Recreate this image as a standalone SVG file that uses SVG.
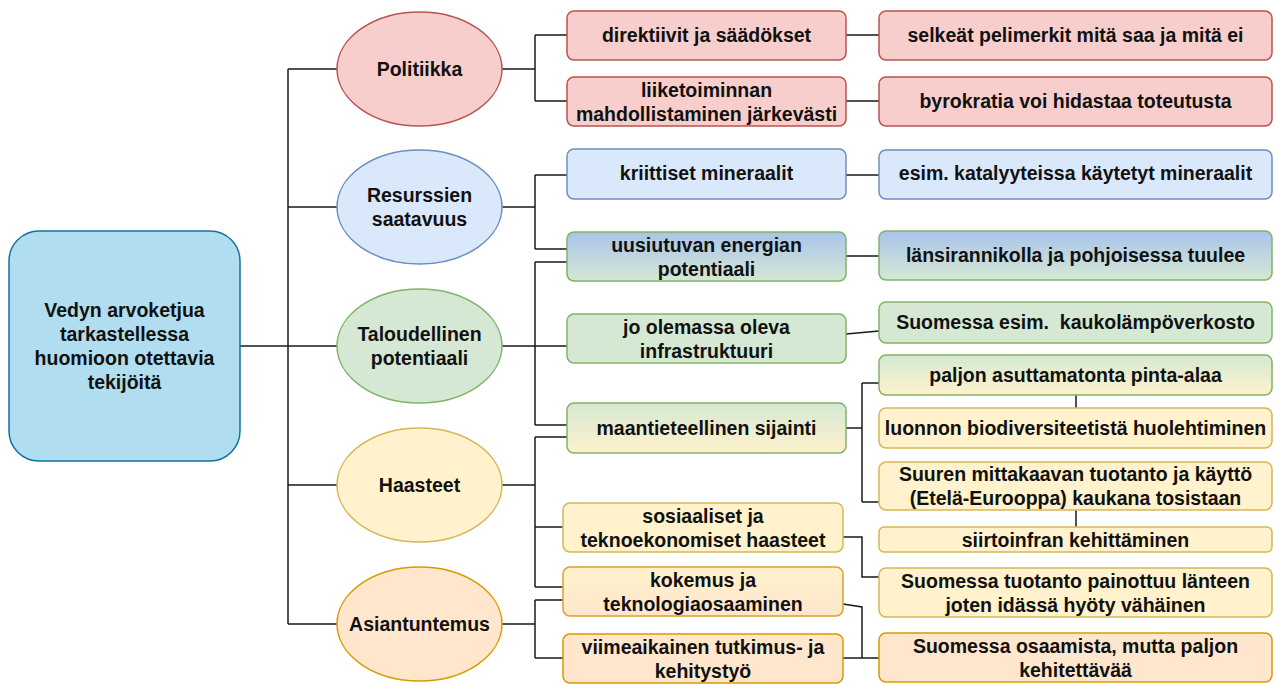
<svg xmlns="http://www.w3.org/2000/svg" width="1275" height="684" viewBox="0 0 1275 684">
  <style>
    text { font-family: "Liberation Sans", Arial, sans-serif; font-size: 19.5px; font-weight: bold; fill: #111; text-anchor: middle; dominant-baseline: central; }
    .wire { fill: none; stroke: #1a1a1a; stroke-width: 1.5; }
    .box { stroke-width: 1.5; }
    .red { fill: #f8cecc; stroke: #b85450; }
    .blue { fill: #dae8fc; stroke: #6c8ebf; }
    .green { fill: #d5e8d4; stroke: #82b366; }
    .yellow { fill: #fff2cc; stroke: #d6b656; }
    .orange { fill: #ffe6cc; stroke: #d79b00; }
    .bg { fill: url(#gBlueGreen); stroke: #82b366; }
    .gy { fill: url(#gGreenYellow); stroke: #82b366; }
    .yo { fill: url(#gYellowOrange); stroke: #d7a42a; }
    .root { fill: #b1ddf0; stroke: #10739e; }
  </style>
  <defs>
    <linearGradient id="gBlueGreen" x1="0" y1="0" x2="0" y2="1">
      <stop offset="0" stop-color="#a9c4eb"/>
      <stop offset="1" stop-color="#d5e8d4"/>
    </linearGradient>
    <linearGradient id="gGreenYellow" x1="0" y1="0" x2="0" y2="1">
      <stop offset="0" stop-color="#d5e8d4"/>
      <stop offset="1" stop-color="#fff2cc"/>
    </linearGradient>
    <linearGradient id="gYellowOrange" x1="0" y1="0" x2="0" y2="1">
      <stop offset="0" stop-color="#fff2cc"/>
      <stop offset="1" stop-color="#ffe6cc"/>
    </linearGradient>
  </defs>

  <!-- connectors -->
  <g id="connectors">
    <!-- root to category trunk -->
    <path class="wire" d="M240 346 H288 M288 69 V624 M288 69 H337 M288 207 H337 M288 346 H337 M288 485 H337 M288 624 H337"/>
    <!-- Politiikka -->
    <path class="wire" d="M502 69 H535 M535 35 V101 M535 35 H567 M535 101 H567"/>
    <!-- Resurssien saatavuus -->
    <path class="wire" d="M502 207 H535 M535 175 V249 M535 175 H567 M535 249 H567"/>
    <!-- Taloudellinen potentiaali -->
    <path class="wire" d="M502 346 H535 M535 262 V425 M535 262 H567 M535 346 H567 M535 425 H567"/>
    <!-- Haasteet -->
    <path class="wire" d="M502 485 H535 M535 437 V587 M535 437 H567 M535 527 H563 M535 587 H563"/>
    <!-- Asiantuntemus -->
    <path class="wire" d="M502 624 H535 M535 600 V658 M535 600 H563 M535 658 H563"/>
    <!-- second level to details -->
    <path class="wire" d="M846 35 H879 M846 101 H879 M846 175 H879 M846 256 H879"/>
    <path class="wire" d="M846 334 L879 331"/>
    <path class="wire" d="M846 428 H862 M862 383 V502 M862 383 H879 M862 502 H879"/>
    <path class="wire" d="M1076 395 V408 M1076 510 V527"/>
    <path class="wire" d="M843 537 H862 V577 H879"/>
    <path class="wire" d="M843 604 L862 607 V658 H879 M843 658 H862"/>
  </g>

  <!-- root -->
  <g id="root">
    <rect class="box root" x="9" y="231" width="231" height="230" rx="30"/>
    <text x="124.5" y="310">Vedyn arvoketjua</text>
    <text x="124.5" y="334">tarkastellessa</text>
    <text x="124.5" y="358">huomioon otettavia</text>
    <text x="124.5" y="382">tekijöitä</text>
  </g>

  <!-- categories -->
  <g id="politiikka">
    <ellipse class="box red" cx="419.5" cy="69" rx="82.5" ry="57"/>
    <text x="419.5" y="69">Politiikka</text>
  </g>
  <g id="resurssit">
    <ellipse class="box blue" cx="419.5" cy="207" rx="82.5" ry="57"/>
    <text x="419.5" y="195">Resurssien</text>
    <text x="419.5" y="219">saatavuus</text>
  </g>
  <g id="talous">
    <ellipse class="box green" cx="419.5" cy="346" rx="82.5" ry="57"/>
    <text x="419.5" y="334">Taloudellinen</text>
    <text x="419.5" y="358">potentiaali</text>
  </g>
  <g id="haasteet">
    <ellipse class="box yellow" cx="419.5" cy="485" rx="82.5" ry="57"/>
    <text x="419.5" y="485">Haasteet</text>
  </g>
  <g id="asiantuntemus">
    <ellipse class="box orange" cx="419.5" cy="624" rx="82.5" ry="57"/>
    <text x="419.5" y="624">Asiantuntemus</text>
  </g>

  <!-- second level -->
  <g id="direktiivit">
    <rect class="box red" x="567" y="11" width="279" height="49" rx="7"/>
    <text x="706.5" y="35">direktiivit ja säädökset</text>
  </g>
  <g id="liiketoiminta">
    <rect class="box red" x="567" y="77" width="279" height="49" rx="7"/>
    <text x="706.5" y="89.5">liiketoiminnan</text>
    <text x="706.5" y="113.5">mahdollistaminen järkevästi</text>
  </g>
  <g id="mineraalit">
    <rect class="box blue" x="567" y="149" width="279" height="50" rx="7"/>
    <text x="706.5" y="173">kriittiset mineraalit</text>
  </g>
  <g id="uusiutuva">
    <rect class="box bg" x="567" y="232" width="279" height="49" rx="7"/>
    <text x="706.5" y="244.5">uusiutuvan energian</text>
    <text x="706.5" y="268.5">potentiaali</text>
  </g>
  <g id="infra">
    <rect class="box green" x="567" y="314" width="279" height="49" rx="7"/>
    <text x="706.5" y="326.5">jo olemassa oleva</text>
    <text x="706.5" y="350.5">infrastruktuuri</text>
  </g>
  <g id="sijainti">
    <rect class="box gy" x="567" y="403" width="279" height="50" rx="7"/>
    <text x="706.5" y="428">maantieteellinen sijainti</text>
  </g>
  <g id="sosiaaliset">
    <rect class="box yellow" x="563" y="503" width="280" height="49" rx="7"/>
    <text x="703" y="515.5">sosiaaliset ja</text>
    <text x="703" y="539.5">teknoekonomiset haasteet</text>
  </g>
  <g id="kokemus">
    <rect class="box yo" x="563" y="567" width="280" height="49" rx="7"/>
    <text x="703" y="579.5">kokemus ja</text>
    <text x="703" y="603.5">teknologiaosaaminen</text>
  </g>
  <g id="tutkimus">
    <rect class="box orange" x="563" y="634" width="280" height="49" rx="7"/>
    <text x="703" y="646.5">viimeaikainen tutkimus- ja</text>
    <text x="703" y="670.5">kehitystyö</text>
  </g>

  <!-- details -->
  <g id="pelimerkit">
    <rect class="box red" x="879" y="11" width="393" height="49" rx="7"/>
    <text x="1075.5" y="35">selkeät pelimerkit mitä saa ja mitä ei</text>
  </g>
  <g id="byrokratia">
    <rect class="box red" x="879" y="77" width="393" height="49" rx="7"/>
    <text x="1075.5" y="101">byrokratia voi hidastaa toteutusta</text>
  </g>
  <g id="katalyytit">
    <rect class="box blue" x="879" y="150" width="393" height="49" rx="7"/>
    <text x="1075.5" y="173">esim. katalyyteissa käytetyt mineraalit</text>
  </g>
  <g id="tuuli">
    <rect class="box bg" x="879" y="231" width="393" height="49" rx="7"/>
    <text x="1075.5" y="255">länsirannikolla ja pohjoisessa tuulee</text>
  </g>
  <g id="kaukolampo">
    <rect class="box green" x="879" y="302" width="393" height="41" rx="7"/>
    <text x="1075.5" y="322" xml:space="preserve">Suomessa esim.  kaukolämpöverkosto</text>
  </g>
  <g id="pinta-ala">
    <rect class="box gy" x="879" y="355" width="393" height="40" rx="7"/>
    <text x="1075.5" y="375">paljon asuttamatonta pinta-alaa</text>
  </g>
  <g id="biodiversiteetti">
    <rect class="box yellow" x="879" y="408" width="393" height="40" rx="7"/>
    <text x="1075.5" y="428">luonnon biodiversiteetistä huolehtiminen</text>
  </g>
  <g id="mittakaava">
    <rect class="box yellow" x="879" y="462" width="393" height="48" rx="7"/>
    <text x="1075.5" y="474">Suuren mittakaavan tuotanto ja käyttö</text>
    <text x="1075.5" y="498">(Etelä-Eurooppa) kaukana tosistaan</text>
  </g>
  <g id="siirtoinfra">
    <rect class="box yellow" x="879" y="527" width="393" height="25" rx="5"/>
    <text x="1075.5" y="539.5">siirtoinfran kehittäminen</text>
  </g>
  <g id="tuotanto">
    <rect class="box yellow" x="879" y="568" width="393" height="49" rx="7"/>
    <text x="1075.5" y="580.5">Suomessa tuotanto painottuu länteen</text>
    <text x="1075.5" y="604.5">joten idässä hyöty vähäinen</text>
  </g>
  <g id="osaaminen">
    <rect class="box orange" x="879" y="633" width="393" height="49" rx="7"/>
    <text x="1075.5" y="645.5">Suomessa osaamista, mutta paljon</text>
    <text x="1075.5" y="669.5">kehitettävää</text>
  </g>
</svg>
